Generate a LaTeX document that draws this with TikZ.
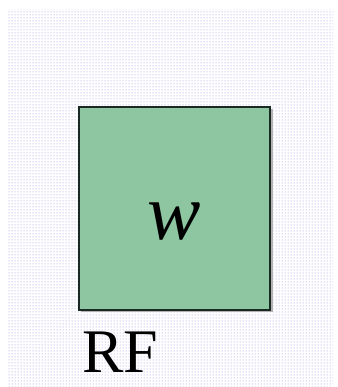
\documentclass[tikz,border=0pt]{standalone}
\usepackage{fontspec}
\setmainfont{Liberation Serif}
\usetikzlibrary{patterns}
\definecolor{bgdot}{RGB}{150,135,225}
\definecolor{boxgreen}{RGB}{141,198,160}
\definecolor{boxedge}{RGB}{25,40,35}
\tikzset{
  boxstyle/.style={draw=boxedge, line width=1.6pt, fill=boxgreen, rectangle, inner sep=0pt},
  bigtext/.style={inner sep=0pt, font=\fontsize{62}{62}\selectfont},
}
\begin{document}
\begin{tikzpicture}[x=1pt,y=1pt]
\useasboundingbox (0,0) rectangle (337,387);
\fill[white] (0,0) rectangle (337,387);
\fill[pattern=dots, pattern color=bgdot] (7,0) rectangle (333,377);
\fill[gray!60] (81,75) rectangle (272.5,278);
\node[boxstyle, minimum width=191pt, minimum height=203pt] (box) at (174.5,178.5) {};
\node[inner sep=0pt, anchor=base, font=\fontsize{80}{80}\selectfont\itshape] (w) at (174,147) {w};
\node[bigtext, anchor=base west] (rf) at (82,14) {RF};
\end{tikzpicture}
\end{document}
